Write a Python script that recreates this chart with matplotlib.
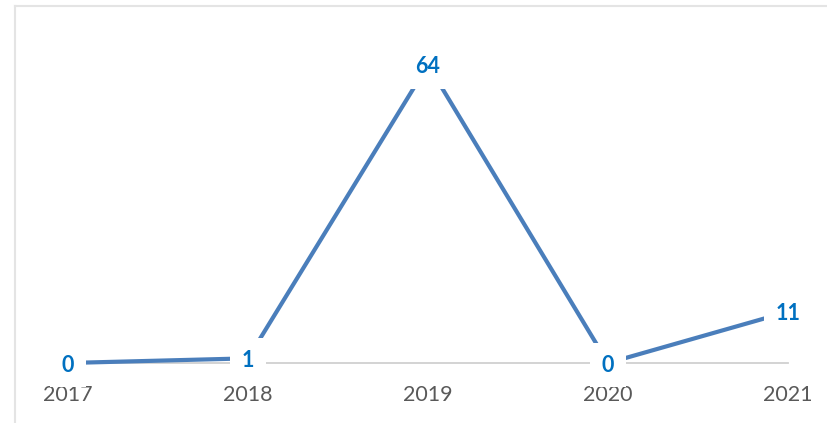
import matplotlib
matplotlib.use("Agg")
import matplotlib.pyplot as plt
from matplotlib.lines import Line2D

plt.rcParams['font.family'] = ['Lato', 'DejaVu Sans']

years = ["2017", "2018", "2019", "2020", "2021"]
values = [0, 1, 64, 0, 11]

W, H = 828, 423
fig = plt.figure(figsize=(W / 100, H / 100), dpi=100)

# axes placement in pixels
x0_px, x1_px = 68, 788
y0_px = 363          # y of value 0 (from top)
ymax = 70
px_per_unit = 4.66
height_px = ymax * px_per_unit
ax = fig.add_axes([x0_px / W, (H - y0_px) / H, (x1_px - x0_px) / W, height_px / H])

x = list(range(len(years)))
ax.plot(x, values, color='#4a7ebb', lw=3.0, solid_capstyle='butt', zorder=3, clip_on=False)
ax.set_xlim(0, len(years) - 1)
ax.set_ylim(0, ymax)

for xi, v in zip(x, values):
    ax.annotate(str(v), (xi, v), xytext=(0, -1.5), textcoords='offset points',
                ha='center', va='center', fontsize=15.5, fontweight='bold',
                color='#0070c0', zorder=5, annotation_clip=False,
                bbox=dict(boxstyle='square,pad=0.55', fc='white', ec='none'))

for s in ['top', 'right', 'left']:
    ax.spines[s].set_visible(False)
ax.spines['bottom'].set_color('#d0d0d0')
ax.spines['bottom'].set_linewidth(1.3)
ax.spines['bottom'].set_zorder(2)
ax.set_yticks([])
ax.set_xticks(x)
ax.set_xticklabels(years, fontsize=15.5, color='#595959')
ax.tick_params(axis='x', length=0, pad=16)
ax.patch.set_alpha(0)

# chart area border (top and left visible)
bx, by = 14.5, 6.5
fig.add_artist(Line2D([bx / W, bx / W], [0, 1 - by / H], color='#e4e4e4', lw=1.5))
fig.add_artist(Line2D([bx / W, 1], [1 - by / H, 1 - by / H], color='#e4e4e4', lw=1.5))

fig.savefig('out.png', dpi=100)
